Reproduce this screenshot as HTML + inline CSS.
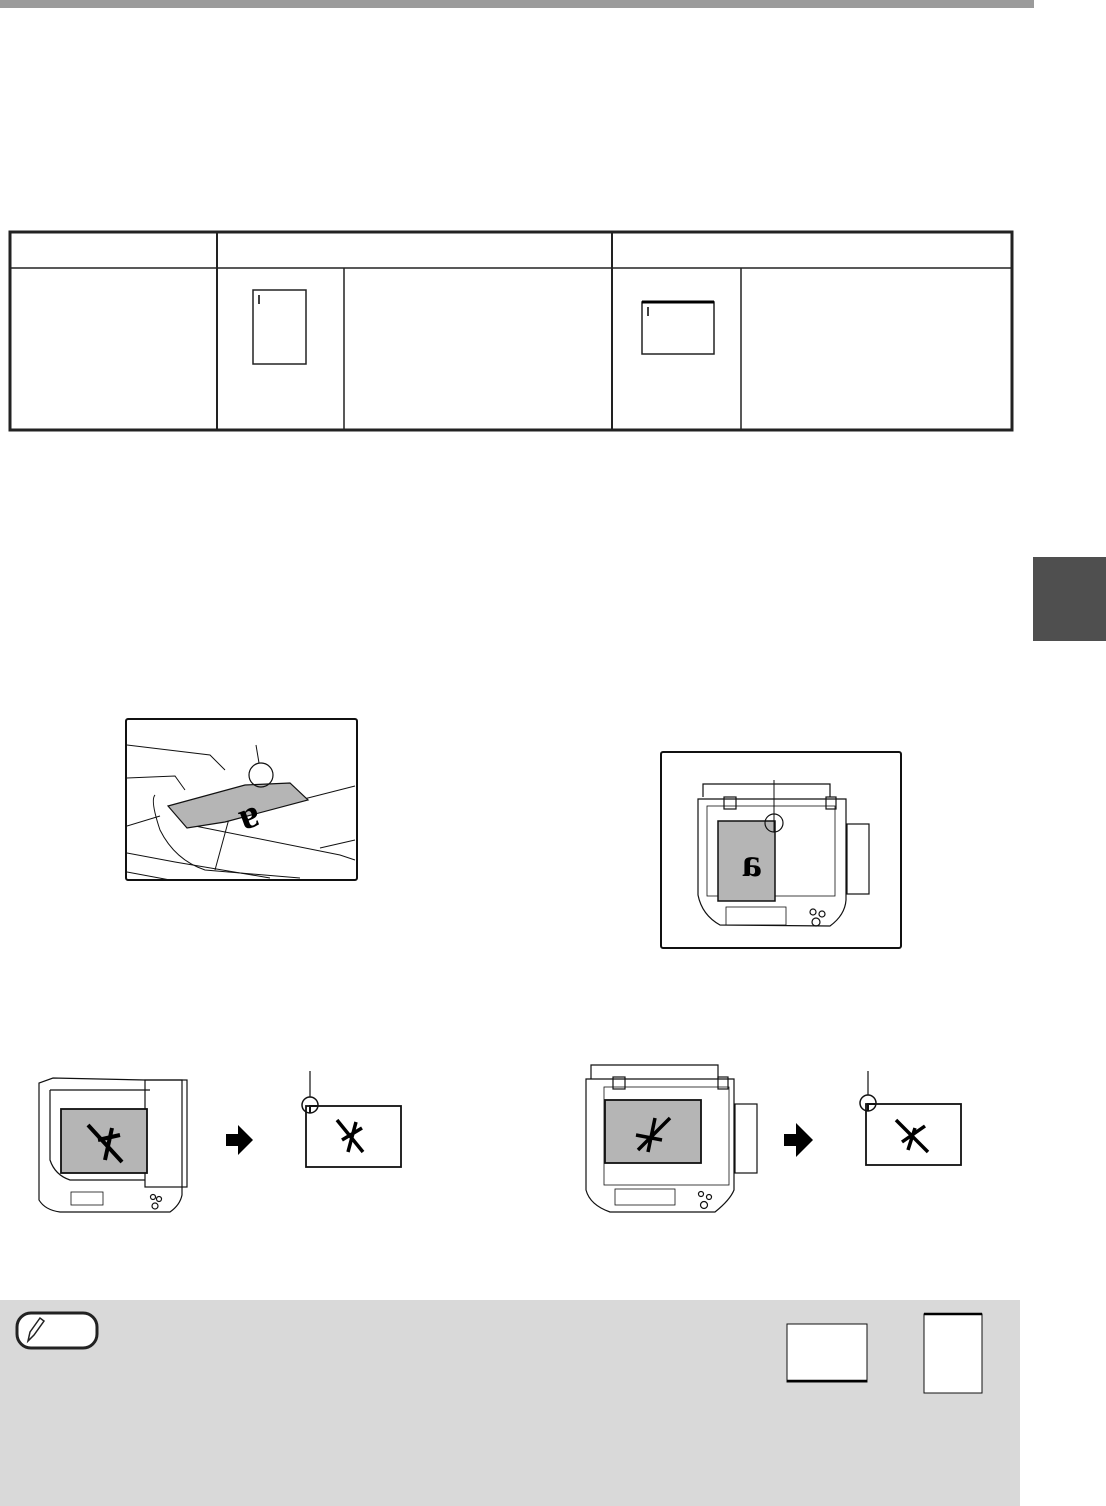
<!DOCTYPE html>
<html><head><meta charset="utf-8"><style>
html,body{margin:0;padding:0;background:#fff;}
body{width:1106px;height:1506px;position:relative;overflow:hidden;font-family:"Liberation Sans",sans-serif;}
</style></head><body>
<svg width="1106" height="1506" viewBox="0 0 1106 1506" xmlns="http://www.w3.org/2000/svg" style="position:absolute;left:0;top:0">
<rect x="0" y="0" width="1034" height="8" fill="#9b9b9b"/>
<rect x="1033" y="557" width="73" height="84" fill="#4f4f4f"/>
<g fill="none" stroke="#222">
<rect x="10" y="232" width="1002" height="198" stroke-width="3"/>
<line x1="10" y1="268" x2="1012" y2="268" stroke-width="1.5"/>
<line x1="217" y1="232" x2="217" y2="430" stroke-width="2"/>
<line x1="612" y1="232" x2="612" y2="430" stroke-width="2"/>
<line x1="344" y1="268" x2="344" y2="430" stroke-width="1.5"/>
<line x1="741" y1="268" x2="741" y2="430" stroke-width="1.5"/>
<rect x="253" y="290" width="53" height="74" stroke-width="1.5"/>
<rect x="642" y="302" width="72" height="52" stroke-width="1.5"/>
</g>
<line x1="642" y1="302" x2="714" y2="302" stroke="#000" stroke-width="3"/>
<line x1="259" y1="295" x2="259" y2="304" stroke="#000" stroke-width="1.5"/>
<line x1="648" y1="307" x2="648" y2="316" stroke="#000" stroke-width="1.5"/>

<rect x="126" y="719" width="231" height="161" rx="2" fill="#fff" stroke="#111" stroke-width="2"/>
<g fill="none" stroke="#111" stroke-width="1">
<path d="M127 745 L210 755 L225 770"/>
<path d="M127 778 L175 776 L185 790"/>
<path d="M127 826 L160 816"/>
<path d="M127 853 L175 862 L270 878"/>
<path d="M127 872 L170 880"/>
<path d="M155 795 Q150 800 160 830 Q175 860 205 870 L300 878"/>
<path d="M190 825 L340 855 L355 860"/>
<path d="M230 815 L215 870"/>
<path d="M300 800 L355 786"/>
<path d="M320 848 L355 840"/>
</g>
<polygon points="168,806 245,785 290,783 308,800 225,822 187,828" fill="#b5b5b5" stroke="#111" stroke-width="1.2"/>
<text x="245" y="800" font-size="40" font-weight="bold" font-family="Liberation Serif, serif" transform="rotate(160 245 805)" text-anchor="middle">a</text>
<circle cx="261" cy="775" r="12" fill="none" stroke="#111" stroke-width="1.2"/>
<line x1="256" y1="745" x2="259" y2="763" stroke="#111"/>

<rect x="661" y="752" width="240" height="196" rx="2" fill="#fff" stroke="#111" stroke-width="2"/>
<path d="M703 797 L703 784 L830 784 L830 797" fill="#fff" stroke="#111" stroke-width="1.2"/>
<g fill="none" stroke="#111" stroke-width="1.2">
<path d="M698 799 L698 895 Q702 915 720 925 L830 926 Q845 915 846 900 L846 799 Z"/>
<rect x="707" y="806" width="128" height="90" stroke-width="0.8"/>
<rect x="847" y="824" width="22" height="70"/>
<rect x="726" y="907" width="60" height="18" stroke-width="0.8"/>
<circle cx="813" cy="912" r="3"/><circle cx="822" cy="914" r="3"/><circle cx="816" cy="922" r="4"/>
<rect x="724" y="797" width="12" height="12"/><rect x="826" y="797" width="10" height="12"/>
</g>
<rect x="718" y="821" width="57" height="80" fill="#b5b5b5" stroke="#111" stroke-width="1.5"/>
<text x="752" y="876" font-size="40" font-weight="bold" font-family="Liberation Serif, serif" text-anchor="middle" transform="scale(-1 1) translate(-1504 0)">a</text>
<circle cx="774" cy="823" r="9" fill="none" stroke="#111" stroke-width="1.2"/>
<line x1="774" y1="780" x2="774" y2="832" stroke="#111"/>

<g fill="none" stroke="#111" stroke-width="1.2">
<path d="M39 1083 L39 1200 Q45 1210 60 1212 L170 1212 Q180 1205 182 1195 L182 1080 L145 1080 L53 1078 Z"/>
<rect x="145" y="1080" width="42" height="107"/>
<path d="M50 1090 L150 1090 M50 1090 L50 1160 Q55 1175 70 1180 L145 1180"/>
<rect x="71" y="1192" width="32" height="13" stroke-width="0.8"/>
<circle cx="153" cy="1197" r="2.5"/><circle cx="159" cy="1199" r="2.5"/><circle cx="155" cy="1206" r="3"/>
</g>
<rect x="61" y="1109" width="86" height="64" fill="#b5b5b5" stroke="#111" stroke-width="1.8"/>
<path d="M88 1125 L122 1162 M98 1140 L120 1135 M112 1128 L105 1160" stroke="#000" stroke-width="4" fill="none"/>
<polygon points="226,1134 238,1134 238,1125 253,1140 238,1155 238,1146 226,1146" fill="#000"/>
<rect x="306" y="1106" width="95" height="61" fill="#fff" stroke="#111" stroke-width="1.8"/>
<circle cx="310" cy="1105" r="8" fill="none" stroke="#111" stroke-width="1.5"/>
<line x1="310" y1="1071" x2="310" y2="1097" stroke="#111" stroke-width="1.2"/>
<path d="M310 1113 L310 1106 L317 1106" stroke="#111" stroke-width="2" fill="none"/>
<path d="M337 1120 L363 1152 M342 1140 L362 1128 M356 1122 L348 1152" stroke="#000" stroke-width="3.5" fill="none"/>

<g fill="none" stroke="#111" stroke-width="1.2">
<path d="M591 1079 L591 1065 L718 1065 L718 1079"/>
<path d="M586 1079 L586 1190 Q590 1205 610 1212 L715 1212 Q730 1200 734 1190 L734 1079 Z"/>
<rect x="604" y="1087" width="125" height="98" stroke-width="0.8"/>
<rect x="735" y="1104" width="22" height="69"/>
<rect x="615" y="1189" width="60" height="16" stroke-width="0.8"/>
<circle cx="701" cy="1194" r="2.5"/><circle cx="709" cy="1197" r="2.5"/><circle cx="704" cy="1205" r="3.5"/>
<rect x="613" y="1077" width="12" height="12"/><rect x="718" y="1077" width="10" height="12"/>
</g>
<rect x="605" y="1100" width="96" height="63" fill="#b5b5b5" stroke="#111" stroke-width="1.8"/>
<path d="M638 1150 L670 1118 M636 1135 L662 1140 M655 1118 L648 1152" stroke="#000" stroke-width="3.5" fill="none"/>
<polygon points="784,1134 796,1134 796,1123 813,1140 796,1157 796,1146 784,1146" fill="#000"/>
<rect x="866" y="1104" width="95" height="61" fill="#fff" stroke="#111" stroke-width="1.8"/>
<circle cx="868" cy="1103" r="8" fill="none" stroke="#111" stroke-width="1.5"/>
<line x1="868" y1="1071" x2="868" y2="1095" stroke="#111" stroke-width="1.2"/>
<path d="M868 1111 L868 1104 L875 1104" stroke="#111" stroke-width="2" fill="none"/>
<path d="M896 1120 L928 1152 M902 1142 L925 1126 M915 1128 L908 1150" stroke="#000" stroke-width="3.5" fill="none"/>

<rect x="0" y="1300" width="1020" height="206" fill="#d9d9d9"/>
<rect x="17" y="1313" width="80" height="35" rx="14" fill="#fff" stroke="#222" stroke-width="3"/>
<path d="M28 1341 L30 1332 L40 1318 L44 1321 L34 1335 Z" fill="none" stroke="#222" stroke-width="1.5"/>
<rect x="787" y="1324" width="80" height="58" fill="#fff" stroke="#111" stroke-width="1"/>
<line x1="787" y1="1381" x2="867" y2="1381" stroke="#000" stroke-width="2.5"/>
<rect x="924" y="1314" width="58" height="79" fill="#fff" stroke="#111" stroke-width="1"/>
<line x1="924" y1="1314" x2="982" y2="1314" stroke="#000" stroke-width="2.5"/>
</svg>
</body></html>
